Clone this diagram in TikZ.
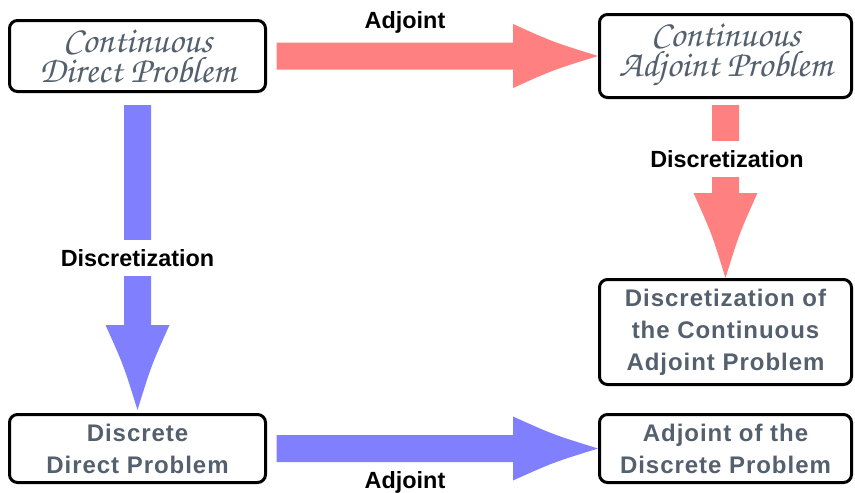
\documentclass[tikz,border=0pt]{standalone}
\usepackage[T1]{fontenc}
\usepackage{fontspec}
\setmainfont{Liberation Sans}
\newfontfamily\boxfont[LetterSpace=4]{Liberation Sans}
\usetikzlibrary{calc}

\definecolor{adjred}{RGB}{255,128,128}
\definecolor{discblue}{RGB}{128,128,255}
\definecolor{slate}{RGB}{84,96,110}

\tikzset{
    prob/.style={draw, line width=3pt, rounded corners=8pt, fill=white, align=center, text=slate, inner sep=0pt},
    contprob/.style={prob, font=\usefont{T1}{pzc}{mb}{it}\fontsize{37}{30}\selectfont},
    discprob/.style={prob, font=\boxfont\bfseries\fontsize{24}{32}\selectfont},
    lbl/.style={font=\bfseries\fontsize{23.4}{28}\selectfont, inner xsep=4pt, inner ysep=9.5pt},
    fatarrow/.style={to path={
        let \p1=(\tikztostart), \p2=(\tikztotarget),
            \n1={atan2(\y2-\y1,\x2-\x1)},
            \n2={veclen(\x2-\x1,\y2-\y1)-85pt},
            \n3={veclen(\x2-\x1,\y2-\y1)-45pt} in
        ($(\p1)+(\n1+90:13.5pt)$) -- ($(\p1)+(\n1:\n2*1pt)+(\n1+90:13.5pt)$)
        -- ($(\p1)+(\n1:\n2*1pt)+(\n1+90:32pt)$)
        .. controls ($(\p1)+(\n1:\n3*1pt)+(\n1+90:14pt)$) .. (\p2)
        .. controls ($(\p1)+(\n1:\n3*1pt)+(\n1-90:14pt)$) .. ($(\p1)+(\n1:\n2*1pt)+(\n1-90:32pt)$)
        -- ($(\p1)+(\n1:\n2*1pt)+(\n1-90:13.5pt)$) -- ($(\p1)+(\n1-90:13.5pt)$) -- cycle
    }},
}

\begin{document}
\begin{tikzpicture}[x=1pt, y=-1pt]
    \useasboundingbox (0,0) rectangle (855,493);

    \node[contprob, minimum width=256pt, minimum height=71pt] (cdp) at (137.5,56) {Continuous\\Direct Problem};
    \node[contprob, minimum width=252pt, minimum height=83pt] (cap) at (725.5,56) {Continuous\\Adjoint Problem};
    \node[discprob, minimum width=252pt, minimum height=105pt] (dcap) at (725.5,332) {Discretization of\\the Continuous\\Adjoint Problem};
    \node[discprob, minimum width=256pt, minimum height=68pt] (ddp) at (137.5,448.5) {Discrete\\Direct Problem};
    \node[discprob, minimum width=252pt, minimum height=68pt] (adp) at (725.5,448.5) {Adjoint of the\\Discrete Problem};

    \fill[adjred] ([xshift=9.5pt]cdp.east) to[fatarrow] (cap.west);
    \fill[adjred] ([yshift=-6pt]cap.south) to[fatarrow] (dcap.north);
    \fill[discblue] ([yshift=-12pt]cdp.south) to[fatarrow] ([yshift=3pt]ddp.north);
    \fill[discblue] ([xshift=9.5pt]ddp.east) to[fatarrow] (adp.west);

    \node[lbl, anchor=base] (adjtop) at (405,28.3) {Adjoint};
    \node[lbl, anchor=base] (adjbot) at (405,488) {Adjoint};
    \node[lbl, fill=white] (discl) at (137.5,258) {Discretization};
    \node[lbl, fill=white] (discr) at (727,159) {Discretization};
\end{tikzpicture}
\end{document}
